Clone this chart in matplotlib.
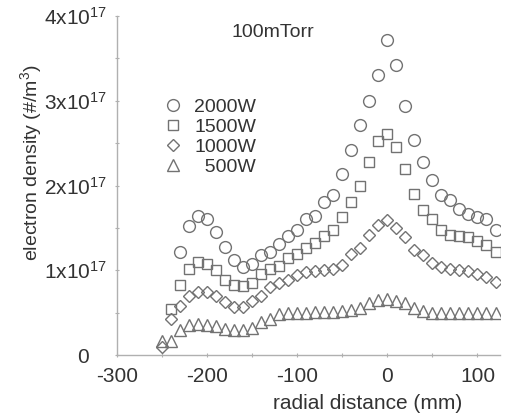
import matplotlib
matplotlib.use('Agg')
import matplotlib.pyplot as plt
from matplotlib.ticker import MultipleLocator, FuncFormatter

plt.rcParams['font.family'] = ['Liberation Sans', 'DejaVu Sans']
plt.rcParams['mathtext.fontset'] = 'custom'
plt.rcParams['mathtext.rm'] = 'Liberation Sans'
plt.rcParams['mathtext.it'] = 'Liberation Sans:italic'
plt.rcParams['axes.unicode_minus'] = False

# radial positions (mm)
x_500 = list(range(-250, 121, 10))
x_1000 = list(range(-250, 121, 10))
x_1500 = list(range(-240, 121, 10))
x_2000 = list(range(-230, 121, 10))

# electron density in units of 1e17 #/m3
n_2000 = [1.21, 1.52, 1.64, 1.61, 1.45, 1.28, 1.12, 1.04, 1.07, 1.18, 1.21, 1.31,
          1.41, 1.48, 1.61, 1.64, 1.80, 1.89, 2.13, 2.42, 2.71, 3.00, 3.30, 3.72,
          3.42, 2.94, 2.54, 2.28, 2.07, 1.89, 1.83, 1.72, 1.66, 1.63, 1.61, 1.47]
n_1500 = [0.54, 0.83, 1.02, 1.10, 1.07, 1.00, 0.89, 0.83, 0.81, 0.85, 0.96, 1.02,
          1.05, 1.15, 1.19, 1.26, 1.32, 1.41, 1.47, 1.63, 1.80, 2.00, 2.28, 2.53,
          2.61, 2.45, 2.19, 1.90, 1.71, 1.61, 1.48, 1.42, 1.41, 1.39, 1.35, 1.30, 1.22]
n_1000 = [0.09, 0.42, 0.58, 0.70, 0.74, 0.74, 0.70, 0.63, 0.57, 0.57, 0.64, 0.70,
          0.80, 0.85, 0.89, 0.94, 0.98, 0.99, 1.00, 1.02, 1.06, 1.19, 1.26, 1.42,
          1.53, 1.59, 1.50, 1.39, 1.24, 1.18, 1.08, 1.04, 1.01, 1.00, 0.99, 0.96,
          0.92, 0.86]
n_500 = [0.17, 0.17, 0.30, 0.36, 0.37, 0.36, 0.34, 0.31, 0.29, 0.29, 0.32, 0.39,
         0.43, 0.48, 0.49, 0.49, 0.50, 0.51, 0.51, 0.51, 0.52, 0.53, 0.56, 0.61,
         0.65, 0.66, 0.64, 0.61, 0.56, 0.52, 0.50, 0.50, 0.50, 0.50, 0.50, 0.50,
         0.50, 0.49]

series = [
    (x_2000, n_2000, 'o', '2000W'),
    (x_1500, n_1500, 's', '1500W'),
    (x_1000, n_1000, 'D', '1000W'),
    (x_500, n_500, '^', '  500W'),
]
sizes = {'o': 8.5, 's': 7.5, 'D': 6.5, '^': 8.5}

fig = plt.figure(figsize=(5.26, 4.16), dpi=100)
ax = fig.add_axes([0.2224, 0.1466, 0.7282, 0.8149])

edge = '#727272'
for xs, ys, m, lab in series:
    ax.plot(xs, ys, linestyle='none', marker=m, markersize=sizes[m],
            markerfacecolor='none', markeredgecolor=edge, markeredgewidth=1.0,
            label=lab)

ax.set_xlim(-300, 125)
ax.set_ylim(0, 4)

for side in ['top', 'right']:
    ax.spines[side].set_visible(False)
for side in ['left', 'bottom']:
    ax.spines[side].set_color('#b0b0b0')
    ax.spines[side].set_linewidth(1.0)

ax.xaxis.set_major_locator(MultipleLocator(100))
ax.xaxis.set_minor_locator(MultipleLocator(50))
ax.yaxis.set_major_locator(MultipleLocator(1))
ax.yaxis.set_minor_locator(MultipleLocator(0.5))


def ylab(v, pos):
    if abs(v) < 1e-9:
        return '0   '
    return '%dx10$^{17}$' % round(v)


ax.yaxis.set_major_formatter(FuncFormatter(ylab))
ax.tick_params(which='both', direction='inout', colors='#b0b0b0', length=3,
               width=0.8, labelcolor='#333333', labelsize=15)
ax.tick_params(axis='x', pad=7)
ax.tick_params(axis='y', pad=6)

ax.set_xlabel('radial distance (mm)', fontsize=15, color='#333333')
ax.xaxis.set_label_coords(0.655, -0.115)
ax.set_ylabel('electron density (#/m$^3$)', fontsize=14, color='#333333')
ax.yaxis.set_label_coords(-0.19, 0.566)

ax.text(-127, 3.8, '100mTorr', fontsize=14, color='#333333', ha='center',
        va='center')

leg = ax.legend(loc='upper left', bbox_to_anchor=(0.095, 0.78), frameon=False,
                fontsize=14, handletextpad=0.5, labelspacing=0.12,
                borderaxespad=0, handlelength=1.2, labelcolor='#333333')

fig.savefig('out.png', dpi=100)
